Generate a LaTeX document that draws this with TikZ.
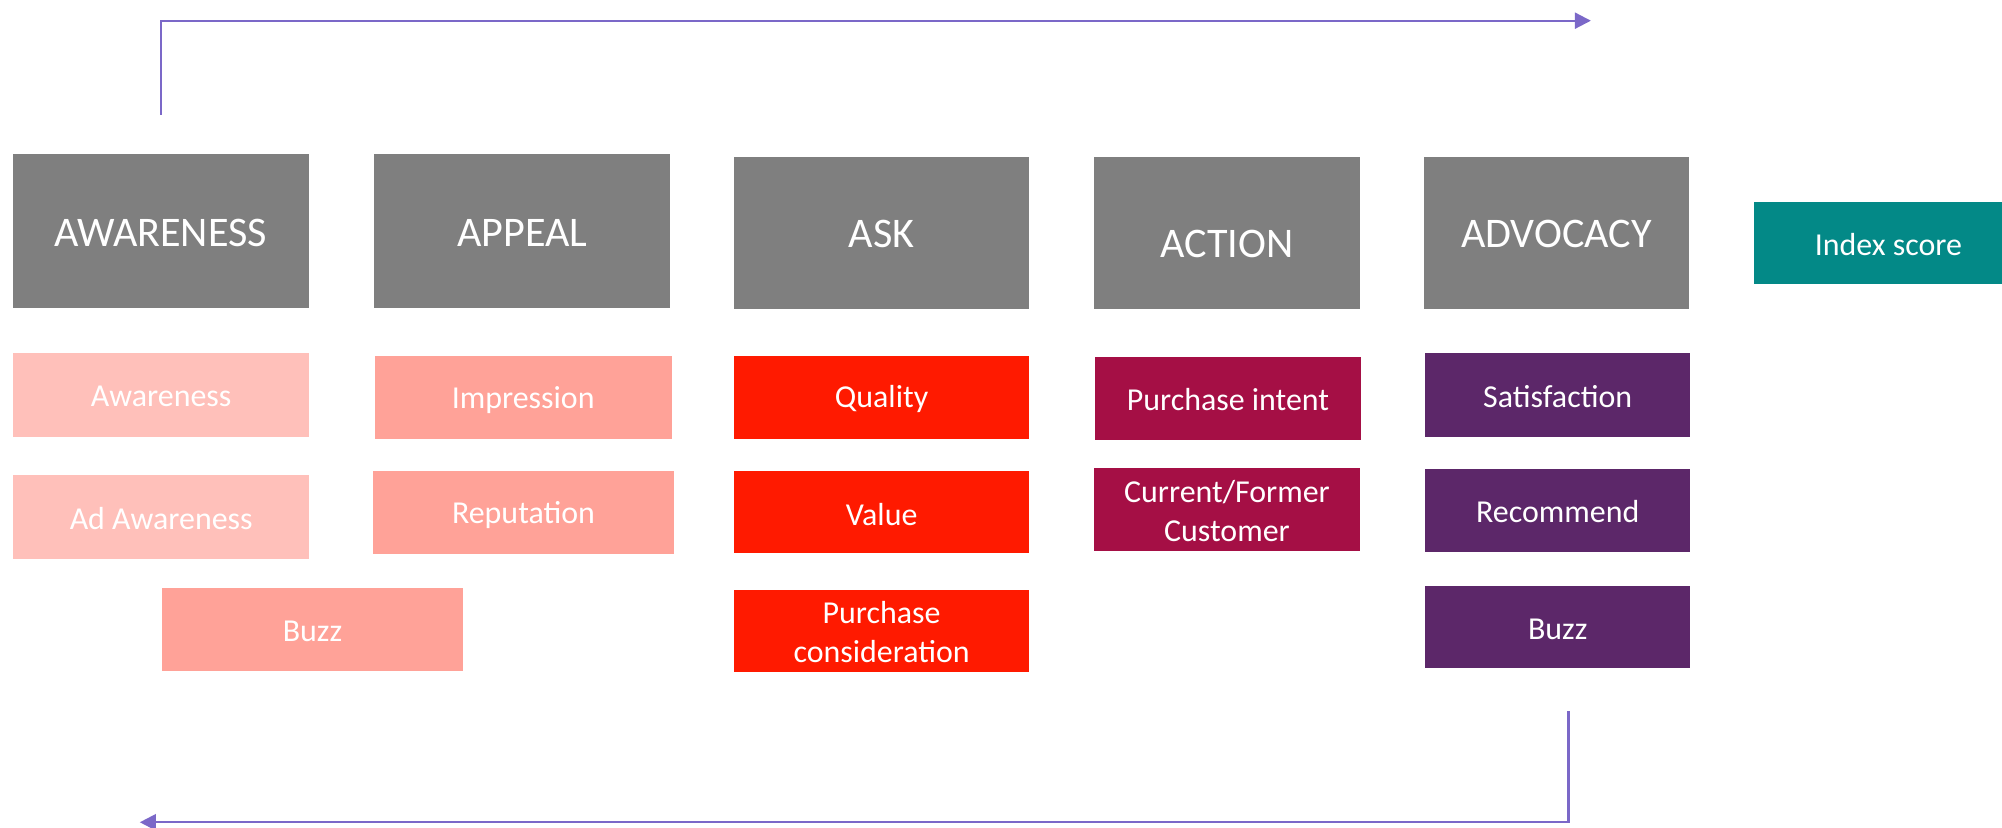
\documentclass[tikz,border=0pt]{standalone}
\usepackage{fontspec}
\setmainfont{Carlito}
\usetikzlibrary{arrows.meta}
\definecolor{hdr}{HTML}{7F7F7F}
\definecolor{teal2}{HTML}{038987}
\definecolor{pink1}{HTML}{FFC0BA}
\definecolor{salmon}{HTML}{FFA298}
\definecolor{red1}{HTML}{FF1A00}
\definecolor{crim}{HTML}{A50F45}
\definecolor{purp}{HTML}{5C2769}
\definecolor{arr}{HTML}{7B68C8}
\tikzset{
  bx/.style={draw=none, inner sep=0pt},
  txt/.style={inner sep=0pt, text=white, align=center},
  hfont/.style={font=\fontsize{33}{39}\selectfont},
  sfont/.style={font=\fontsize{25}{30.5}\selectfont},
  flow/.style={draw=arr, line width=1.7pt, -{Triangle[length=12.5pt,width=12.5pt]}},
}
% \mybox{name}{x1}{y1}{x2}{y2}{fill}{font style}{text offset x,y}{text}
\newcommand{\mybox}[9]{%
  \node[bx, fill=#6, minimum width=#4-#2, minimum height=#5-#3] (#1) at ({(#2+#4)/2},{(#3+#5)/2}) {};
  \node[txt, #7] (#1t) at ([shift={(#8)}]#1.center) {#9};}
\begin{document}
\begin{tikzpicture}[x=1pt,y=-1pt]
\useasboundingbox (0,0) rectangle (1568,648);
% headers
\mybox{aw}{10}{121}{242}{241}{hdr}{hfont}{0,1.5}{AWARENESS}
\mybox{ap}{293}{121}{525}{241}{hdr}{hfont}{0,1.5}{APPEAL}
\mybox{ask}{575}{123}{806}{242}{hdr}{hfont}{0,0.5}{ASK}
\mybox{act}{857}{123}{1065}{242}{hdr}{hfont}{0,8.5}{ACTION}
\mybox{adv}{1115}{123}{1323}{242}{hdr}{hfont}{0,0.5}{ADVOCACY}
\mybox{idx}{1374}{158}{1568}{222.5}{teal2}{sfont}{8,1}{Index score}
% column 1
\mybox{c1a}{10.5}{276.5}{242}{342}{pink1}{sfont}{0,1.5}{Awareness}
\mybox{c1b}{10.5}{372}{242}{437.5}{pink1}{sfont}{0,1.5}{Ad Awareness}
\mybox{c1c}{127}{460.5}{362.5}{525.5}{salmon}{sfont}{0,1.5}{Buzz}
% column 2
\mybox{c2a}{293.5}{279}{526}{344}{salmon}{sfont}{0,1.5}{Impression}
\mybox{c2b}{292}{369}{528}{434}{salmon}{sfont}{0,1.5}{Reputation}
% column 3
\mybox{c3a}{575}{279}{806}{343.5}{red1}{sfont}{0,1.5}{Quality}
\mybox{c3b}{575}{369}{806}{433.5}{red1}{sfont}{0,1.5}{Value}
\mybox{c3c}{575}{462}{806}{526}{red1}{sfont}{0,1}{Purchase\\consideration}
% column 4
\mybox{c4a}{857.5}{279.5}{1066}{344.5}{crim}{sfont}{0,1}{Purchase intent}
\mybox{c4b}{857}{366.5}{1065}{431.5}{crim}{sfont}{0,1}{Current/Former\\Customer}
% column 5
\mybox{c5a}{1116}{276.5}{1324}{342}{purp}{sfont}{0,1.5}{Satisfaction}
\mybox{c5b}{1116}{367}{1324}{432}{purp}{sfont}{0,1.5}{Recommend}
\mybox{c5c}{1116}{459}{1324}{523.5}{purp}{sfont}{0,1.5}{Buzz}
% flow arrows
\coordinate (t0) at (126,90);
\coordinate (t1) at (1246,16.2);
\draw[flow] (t0) |- (t1);
\coordinate (b0) at (1228.5,557);
\coordinate (b1) at (109.5,644);
\draw[flow] (b0) |- (b1);
\end{tikzpicture}
\end{document}
